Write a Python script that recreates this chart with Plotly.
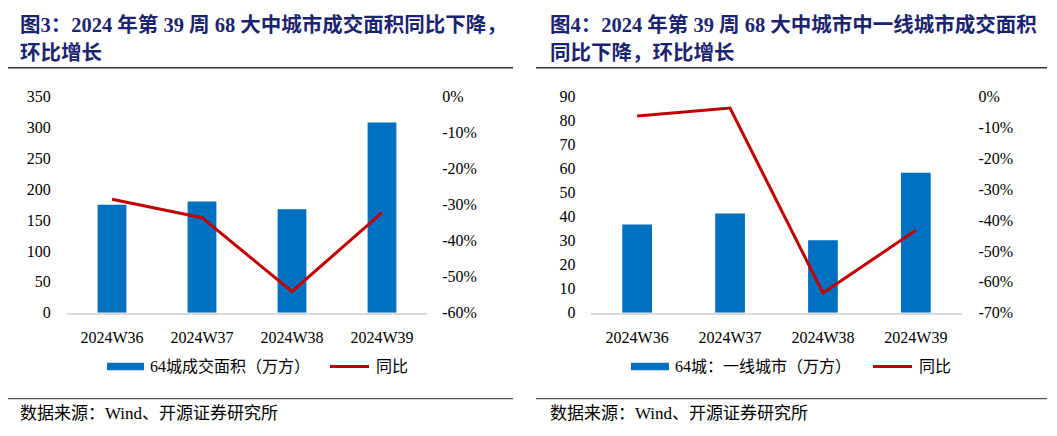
import plotly.graph_objects as go

# page body has an 8px margin: figure is sized to fit the window and positions are compensated
OFF = 8
W, H = 1057 - OFF, 436 - OFF

weeks = ["2024W36", "2024W37", "2024W38", "2024W39"]

# Figure 3: 64-city transaction area (10k sqm) and YoY
area_all = [175, 180, 167.5, 308]
yoy_all = [-0.285, -0.336, -0.541, -0.322]

# Figure 4: 64-city first-tier cities transaction area (10k sqm) and YoY
area_t1 = [36.8, 41.3, 30.2, 58.3]
yoy_t1 = [-0.063, -0.037, -0.636, -0.433]

left_ticks = [0, 50, 100, 150, 200, 250, 300, 350]
left_pct = [0, -0.1, -0.2, -0.3, -0.4, -0.5, -0.6]
right_ticks = [0, 10, 20, 30, 40, 50, 60, 70, 80, 90]
right_pct = [0, -0.1, -0.2, -0.3, -0.4, -0.5, -0.6, -0.7]

titles_left = ["图3：2024 年第 39 周 68 大中城市成交面积同比下降，", "环比增长"]
titles_right = ["图4：2024 年第 39 周 68 大中城市中一线城市成交面积", "同比下降，环比增长"]
legend_left = ["64城成交面积（万方）", "同比"]
legend_right = ["64城：一线城市（万方）", "同比"]
source = "数据来源：Wind、开源证券研究所"

BAR = "#0070C0"
LINE = "#C00000"
NAVY = "#1B2470"
SERIF = "Liberation Serif, 'Times New Roman', 'Noto Sans CJK SC', serif"
TFONT = "Liberation Serif, 'Noto Sans CJK SC', serif"


def px(x):
    return (x - OFF) / W


def py(y):
    return 1 - (y - OFF) / H


def pct_label(v):
    return f"{round(v * 100):d}%"


fig = go.Figure()

fig.add_trace(go.Bar(x=weeks, y=area_all, name=legend_left[0], marker=dict(color=BAR, line=dict(width=0)),
                     width=0.32, xaxis="x", yaxis="y"))
fig.add_trace(go.Scatter(x=weeks, y=yoy_all, name=legend_left[1], mode="lines",
                         line=dict(color=LINE, width=3), xaxis="x", yaxis="y2"))
fig.add_trace(go.Bar(x=weeks, y=area_t1, name=legend_right[0], marker=dict(color=BAR, line=dict(width=0)),
                     width=0.32, xaxis="x2", yaxis="y3"))
fig.add_trace(go.Scatter(x=weeks, y=yoy_t1, name=legend_right[1], mode="lines",
                         line=dict(color=LINE, width=3), xaxis="x2", yaxis="y4"))

tickfont = dict(family=SERIF, size=16, color="#000000")
ydom = [py(317), py(92)]

xcommon = dict(type="category", showgrid=False, zeroline=False, showline=True, linecolor="#D9D9D9",
               linewidth=1.5, ticks="outside", ticklen=9, tickcolor="rgba(0,0,0,0)", tickfont=tickfont,
               range=[-0.5, 3.5], fixedrange=True)

fig.update_layout(
    width=W, height=H,
    margin=dict(l=0, r=0, t=0, b=0),
    paper_bgcolor="white", plot_bgcolor="white",
    showlegend=False,
    xaxis=dict(domain=[px(67), px(427)], anchor="y", **xcommon),
    yaxis=dict(domain=ydom, anchor="x", range=[0, 350], tickvals=left_ticks, showgrid=False,
               zeroline=False, showline=False, ticks="outside", ticklen=12, tickcolor="rgba(0,0,0,0)",
               tickfont=tickfont),
    yaxis2=dict(overlaying="y", side="right", anchor="x", range=[-0.6, 0], tickvals=left_pct,
                ticktext=[pct_label(v) for v in left_pct], showgrid=False, zeroline=False, showline=False,
                ticks="outside", ticklen=11, tickcolor="rgba(0,0,0,0)", tickfont=tickfont),
    xaxis2=dict(domain=[px(590.7), px(962.3)], anchor="y3", **xcommon),
    yaxis3=dict(domain=ydom, anchor="x2", range=[0, 90], tickvals=right_ticks, showgrid=False,
                zeroline=False, showline=False, ticks="outside", ticklen=11, tickcolor="rgba(0,0,0,0)",
                tickfont=tickfont),
    yaxis4=dict(overlaying="y3", side="right", anchor="x2", range=[-0.7, 0], tickvals=right_pct,
                ticktext=[pct_label(v) for v in right_pct], showgrid=False, zeroline=False, showline=False,
                ticks="outside", ticklen=12, tickcolor="rgba(0,0,0,0)", tickfont=tickfont),
)

annotations = []
shapes = []

# titles
for x0, lines in [(18, titles_left), (548, titles_right)]:
    for i, t in enumerate(lines):
        annotations.append(dict(text=f"<b>{t}</b>", x=px(x0), y=py(17 + 30 * i), xref="paper", yref="paper",
                                xanchor="left", yanchor="middle", showarrow=False,
                                font=dict(family=TFONT, size=20.5, color=NAVY)))

# separator lines
for x0, x1 in [(8, 513), (536, 1047)]:
    shapes.append(dict(type="line", xref="paper", yref="paper", x0=px(x0), x1=px(x1), y0=py(62), y1=py(62),
                       line=dict(color="#333333", width=1.5)))
    shapes.append(dict(type="line", xref="paper", yref="paper", x0=px(x0), x1=px(x1), y0=py(406.5),
                       y1=py(406.5), line=dict(color="#555555", width=1.2)))

# legends (manual swatches)
legfont = dict(family=SERIF, size=16, color="#000000")
for (bx0, bx1, tx, lx0, lx1, ltx), labels in [((107, 144, 148, 330, 369, 374), legend_left),
                                              ((631, 669, 673, 873, 912, 917), legend_right)]:
    shapes.append(dict(type="rect", xref="paper", yref="paper", x0=px(bx0), x1=px(bx1), y0=py(377),
                       y1=py(369), fillcolor=BAR, line=dict(width=0)))
    shapes.append(dict(type="line", xref="paper", yref="paper", x0=px(lx0), x1=px(lx1), y0=py(373),
                       y1=py(373), line=dict(color=LINE, width=3)))
    annotations.append(dict(text=labels[0], x=px(tx), y=py(373), xref="paper", yref="paper", xanchor="left",
                            yanchor="middle", showarrow=False, font=legfont))
    annotations.append(dict(text=labels[1], x=px(ltx), y=py(373), xref="paper", yref="paper",
                            xanchor="left", yanchor="middle", showarrow=False, font=legfont))

# source notes
for x0 in [18, 548]:
    annotations.append(dict(text=source, x=px(x0), y=py(422), xref="paper", yref="paper", xanchor="left",
                            yanchor="middle", showarrow=False,
                            font=dict(family=SERIF, size=17, color="#000000")))

fig.update_layout(annotations=annotations, shapes=shapes)

fig.write_html("out.html")
